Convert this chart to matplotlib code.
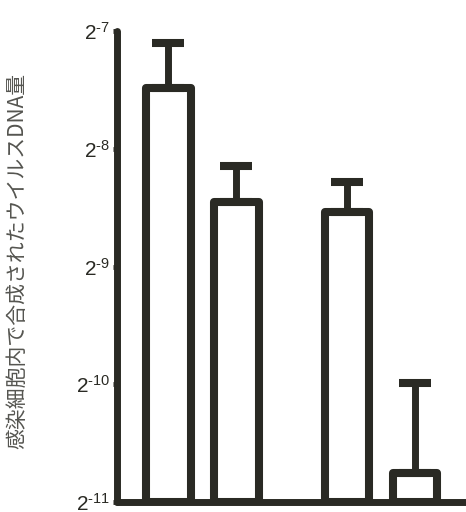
import numpy as np
import matplotlib.pyplot as plt
from matplotlib.ticker import FixedLocator, FixedFormatter

plt.rcParams['font.family'] = ['Liberation Sans', 'Noto Sans CJK JP', 'DejaVu Sans']
plt.rcParams['mathtext.fontset'] = 'custom'
plt.rcParams['mathtext.rm'] = 'Liberation Sans'
plt.rcParams['mathtext.it'] = 'Liberation Sans'

# data
positions = [0, 1, 2.63, 3.63]
values = [0.00558, 0.00286, 0.00269, 0.000580]
errors = [0.00171, 0.00066, 0.00052, 0.000402]
exponents = [-11, -10, -9, -8, -7]
ylabel = '感染細胞内で合成されたウイルスDNA量'

ink = '#2a2a24'
bottom = 2.0 ** -11

fig = plt.figure(figsize=(4.66, 5.12), dpi=100)
ax = fig.add_axes([117 / 466, 10 / 512, 1 - 117 / 466, 471 / 512])

heights = [v - bottom for v in values]
ax.bar(positions, heights, bottom=bottom, width=0.65, color='white',
       edgecolor=ink, linewidth=5.8, joinstyle='round', zorder=2)
ax.errorbar(positions, values, yerr=[np.zeros(len(errors)), errors], fmt='none',
            ecolor=ink, elinewidth=5.0, capsize=11.5, capthick=5.8, zorder=3)

ax.set_yscale('log', base=2)
ax.set_ylim(2.0 ** -11, 2.0 ** -7)
ax.set_xlim(-0.757, 4.375)

ticks = [2.0 ** e for e in exponents]
ax.yaxis.set_major_locator(FixedLocator(ticks))
ax.yaxis.set_major_formatter(FixedFormatter(['$2^{\\text{-%d}}$' % -e for e in exponents]))
ax.yaxis.set_minor_locator(FixedLocator([]))
ax.tick_params(axis='y', length=3, width=3.5, color=ink, labelsize=15, pad=2, labelcolor=ink)
ax.set_xticks([])

for side in ['top', 'right']:
    ax.spines[side].set_visible(False)
for side in ['left', 'bottom']:
    ax.spines[side].set_linewidth(5.0)
    ax.spines[side].set_color(ink)
    ax.spines[side].set_capstyle('round')

fig.text(0.038, 1 - 261 / 512, ylabel, rotation=90, ha='center', va='center',
         fontsize=15, color='#555550', family=['Noto Sans CJK JP', 'DejaVu Sans'])

fig.savefig('out.png', dpi=100, facecolor='white')
